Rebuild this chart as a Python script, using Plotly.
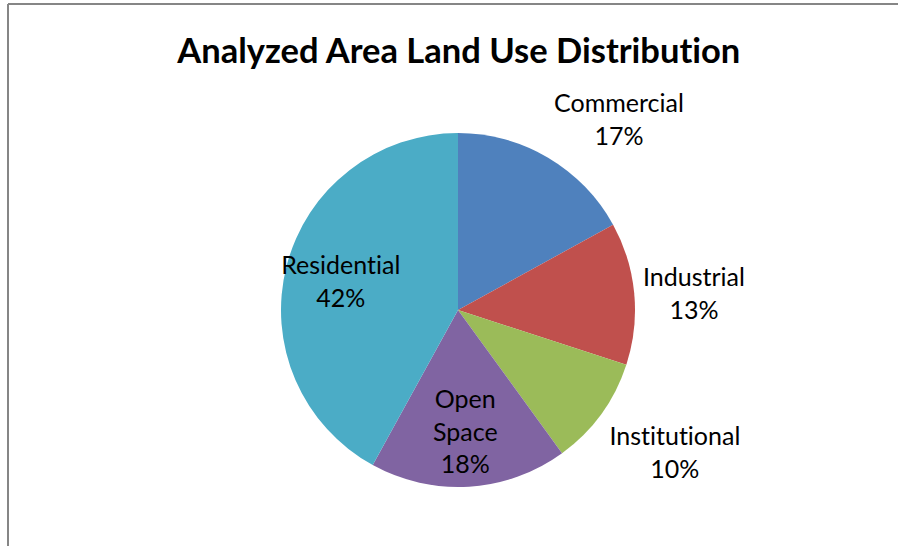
import math
import plotly.graph_objects as go

# Land use categories, clockwise from 12 o'clock
categories = ["Commercial", "Industrial", "Institutional", "Open Space", "Residential"]
shares = [17, 13, 10, 18, 42]
colors = ["#4F81BD", "#C0504D", "#9BBB59", "#8064A2", "#4BACC6"]
label_text = ["Commercial", "Industrial", "Institutional", "Open<br>Space", "Residential"]
inside = [False, False, False, True, True]

W, H = 898, 546
CX, CY, R = 458, 310, 177  # pie centre and radius in pixels

FONT = "Lato, Carlito, Calibri, sans-serif"

fig = go.Figure(
    go.Pie(
        labels=categories,
        values=shares,
        sort=False,
        direction="clockwise",
        rotation=0,
        marker=dict(colors=colors, line=dict(width=0)),
        textinfo="none",
        hoverinfo="label+percent",
        showlegend=False,
        domain=dict(x=[(CX - R) / W, (CX + R) / W], y=[1 - (CY + R) / H, 1 - (CY - R) / H]),
    )
)

# Data labels: inside ones centred on the slice bisector, outside ones
# hung from a point just beyond the rim on the bisector
total = sum(shares)
acc = 0
annotations = []
for name, v, ins in zip(label_text, shares, inside):
    mid = (acc + v / 2) / total * 2 * math.pi
    acc += v
    sx, sy = math.sin(mid), -math.cos(mid)  # screen direction (y grows downward)
    pct = f"{round(100 * v / total)}%"
    if ins:
        d = 0.68 * R
        xa, ya = "center", "middle"
    else:
        d = 1.04 * R
        xa = "left" if sx > 0 else "right"
        ya = "top" if sy > 0.3 else ("bottom" if sy < -0.3 else "middle")
    px, py = CX + sx * d, CY + sy * d
    annotations.append(
        dict(
            x=px / W, y=1 - py / H, xref="paper", yref="paper",
            text=f"{name}<br>{pct}", showarrow=False,
            xanchor=xa, yanchor=ya, align="center",
            font=dict(family=FONT, size=25, color="#000000"),
        )
    )

# Chart title
annotations.append(
    dict(
        x=458 / W, y=1 - 49 / H, xref="paper", yref="paper",
        text="<b>Analyzed Area Land Use Distribution</b>", showarrow=False,
        xanchor="center", yanchor="middle",
        font=dict(family=FONT, size=34.5, color="#000000"),
    )
)

# Chart-area frame (top and left edges)
shapes = [
    dict(type="line", xref="paper", yref="paper", x0=8 / W, y0=0, x1=8 / W, y1=1 - 4 / H,
         line=dict(color="#868686", width=2)),
    dict(type="line", xref="paper", yref="paper", x0=8 / W, y0=1 - 4 / H, x1=1, y1=1 - 4 / H,
         line=dict(color="#868686", width=2)),
]

fig.update_layout(
    width=W, height=H,
    margin=dict(l=0, r=0, t=0, b=0),
    paper_bgcolor="#FFFFFF",
    plot_bgcolor="#FFFFFF",
    annotations=annotations,
    shapes=shapes,
)

# Plain letterforms (no "ti" ligatures) for all chart text
no_liga = (
    "var s=document.createElement('style');"
    "s.textContent='svg text{font-variant-ligatures:none !important;"
    "font-feature-settings:\"liga\" 0, \"clig\" 0 !important;}';"
    "document.head.appendChild(s);"
)

fig.write_html("out.html", config={"displayModeBar": False}, post_script=no_liga)
